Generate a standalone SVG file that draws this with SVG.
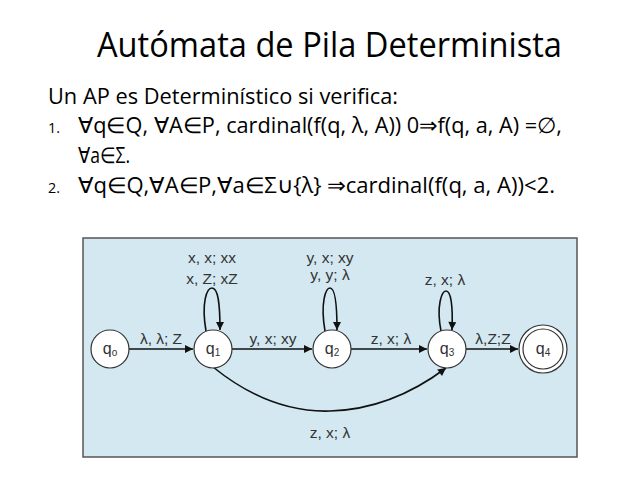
<svg xmlns="http://www.w3.org/2000/svg" width="638" height="479" viewBox="0 0 638 479">
<defs>
<marker id="ah" viewBox="0 0 10 10" refX="10" refY="5" markerWidth="9" markerHeight="8" markerUnits="userSpaceOnUse" orient="auto"><path d="M0,0 L10,5 L0,10 z" fill="#111"/></marker>
<style>
.t{font-family:"Open Sans","Noto Sans",sans-serif;fill:#000}
.n{fill:#fff;stroke:#333;stroke-width:1.2}
.nl{font-family:"Liberation Sans",Arial,sans-serif;font-size:16px;fill:#333;text-anchor:middle}
.sub{font-size:10px}
.el{font-family:"Liberation Sans",Arial,sans-serif;font-size:15.5px;fill:#333;text-anchor:middle}
.e{fill:none;stroke:#111;stroke-width:1.6;marker-end:url(#ah)}
</style>
</defs>
<rect width="638" height="479" fill="#fff"/>
<text class="t" x="97" y="57" font-size="34" textLength="465" lengthAdjust="spacingAndGlyphs">Autómata de Pila Determinista</text>
<text class="t" x="48" y="104" font-size="21.5" textLength="350" lengthAdjust="spacingAndGlyphs">Un AP es Determinístico si verifica:</text>
<text class="t" x="48" y="133" font-size="14" fill="#444" textLength="12" lengthAdjust="spacingAndGlyphs">1.</text>
<text class="t" x="78" y="133" font-size="21.5" textLength="484" lengthAdjust="spacingAndGlyphs">∀q∈Q, ∀A∈P, cardinal(f(q, λ, A)) 0⇒f(q, a, A) =∅,</text>
<text class="t" x="78" y="163" font-size="21.5" textLength="52" lengthAdjust="spacingAndGlyphs">∀a∈Σ.</text>
<text class="t" x="48" y="193" font-size="14" fill="#444" textLength="12" lengthAdjust="spacingAndGlyphs">2.</text>
<text class="t" x="78" y="193" font-size="21.5" textLength="477" lengthAdjust="spacingAndGlyphs">∀q∈Q,∀A∈P,∀a∈Σ∪{λ} ⇒cardinal(f(q, a, A))&lt;2.</text>
<rect x="83" y="238" width="494" height="219" fill="#d3e8f1" stroke="#555" stroke-width="1.5"/>
<g id="edges">
<path class="e" d="M129,349 L193,349"/>
<path class="e" d="M232,349 L312,349"/>
<path class="e" d="M351,349 L427,349"/>
<path class="e" d="M466,349 L518,349"/>
<path class="e" d="M206,331 C201,302 207,288 212,288 C218,288 220,303 220,330"/>
<path class="e" d="M325,331 C320,302 326,288 330,288 C335,288 337,303 337,330"/>
<path class="e" d="M441,331 C436,305 442,291 446,291 C451,291 453,306 452,330"/>
<path class="e" d="M213,367 C260,405 300,412 330,411 C370,410 410,395 446,368"/>
<text class="el" x="161" y="344">λ, λ; Z</text>
<text class="el" x="273" y="344">y, x; xy</text>
<text class="el" x="391" y="344">z, x; λ</text>
<text class="el" x="493" y="344">λ,Z;Z</text>
<text class="el" x="212" y="263">x, x; xx</text>
<text class="el" x="212" y="284">x, Z; xZ</text>
<text class="el" x="330" y="263">y, x; xy</text>
<text class="el" x="330" y="280">y, y; λ</text>
<text class="el" x="445" y="285">z, x; λ</text>
<text class="el" x="330" y="438">z, x; λ</text>
</g>
<g id="q0"><circle class="n" cx="110" cy="349" r="19"/><text class="nl" x="110" y="354">q<tspan class="sub" dy="2">o</tspan></text></g>
<g id="q1"><circle class="n" cx="213" cy="349" r="19"/><text class="nl" x="213" y="354">q<tspan class="sub" dy="2">1</tspan></text></g>
<g id="q2"><circle class="n" cx="332" cy="349" r="19"/><text class="nl" x="332" y="354">q<tspan class="sub" dy="2">2</tspan></text></g>
<g id="q3"><circle class="n" cx="447" cy="349" r="19"/><text class="nl" x="447" y="354">q<tspan class="sub" dy="2">3</tspan></text></g>
<g id="q4"><circle class="n" cx="543" cy="349" r="24"/><circle class="n" cx="543" cy="349" r="20"/><text class="nl" x="543" y="354">q<tspan class="sub" dy="2">4</tspan></text></g>
</svg>
